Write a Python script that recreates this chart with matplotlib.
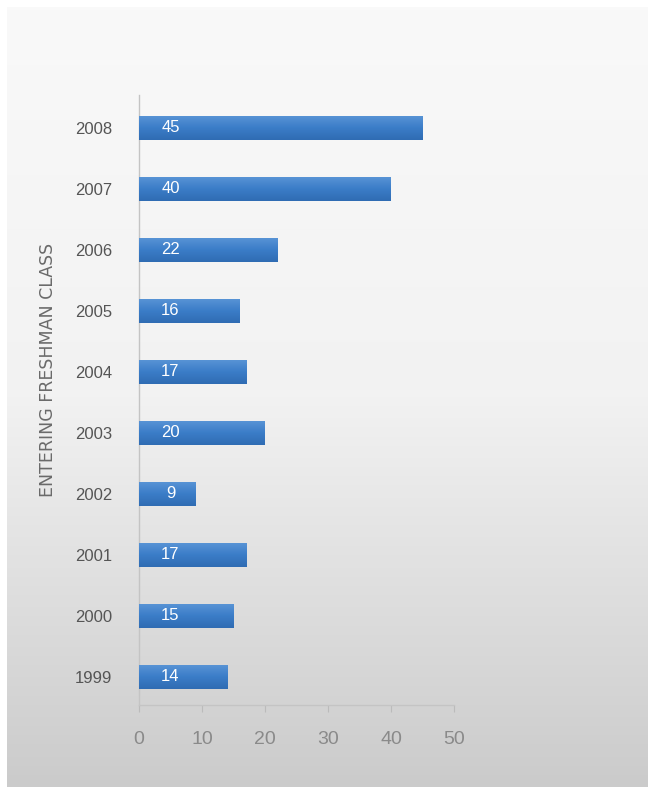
import matplotlib
matplotlib.use("Agg")
import matplotlib.pyplot as plt
import numpy as np

# entering freshman class, bottom to top
years = ['1999', '2000', '2001', '2002', '2003', '2004', '2005', '2006', '2007', '2008']
counts = [14, 15, 17, 9, 20, 17, 16, 22, 40, 45]
xticks = [0, 10, 20, 30, 40, 50]

NARROW = ['Liberation Sans', 'DejaVu Sans']

fig = plt.figure(figsize=(6.48, 7.89), dpi=100)
fig.patch.set_facecolor('white')

# gray gradient panel behind everything, white margin on top/left
bg = fig.add_axes([7 / 648, 2 / 789, 641 / 648, 780 / 789], zorder=-10)
grad = np.linspace(0, 1, 256).reshape(-1, 1)
bg.imshow(grad, aspect='auto', cmap=matplotlib.colors.LinearSegmentedColormap.from_list(
    'bgg', ['#f9f9f9', '#f2f2f2', '#cbcbcb']), extent=[0, 1, 0, 1])
bg.axis('off')

ax = fig.add_axes([139 / 648, 84 / 789, 315 / 648, 610 / 789])
ax.patch.set_alpha(0)

pos = np.arange(len(years))
bars = ax.barh(pos, counts, height=0.4, color='#3a7cc7', edgecolor='none', zorder=3)

# subtle vertical shading on each bar
bar_cmap = matplotlib.colors.LinearSegmentedColormap.from_list('barg', ['#2f6cb3', '#3b7dc8', '#5a95d6'])
for b in bars:
    x0, y0 = b.get_x(), b.get_y()
    w, h = b.get_width(), b.get_height()
    im = ax.imshow(np.linspace(0, 1, 64).reshape(-1, 1), cmap=bar_cmap, aspect='auto',
                   extent=[x0, x0 + w, y0, y0 + h], origin='lower', zorder=4)
    im.set_clip_path(b)

for p, v in zip(pos, counts):
    ax.text(5, p, str(v), color='white', ha='center', va='center',
            fontsize=12, family=NARROW, zorder=5)

ax.set_xlim(0, 50)
ax.set_ylim(-0.46, 9.54)
ax.set_xticks(xticks)
ax.set_xticklabels([str(t) for t in xticks], fontsize=14, color='#8a8a8a', family=NARROW)
ax.set_yticks(pos)
ax.set_yticklabels(years, fontsize=12, color='#555555', family=NARROW)
ax.tick_params(axis='y', length=0, pad=19)
ax.tick_params(axis='x', length=5, color='#bbbbbb', pad=14)

for side in ['top', 'right']:
    ax.spines[side].set_visible(False)
ax.spines['left'].set_color('#c4c4c4')
ax.spines['bottom'].set_color('#c4c4c4')
ax.spines['left'].set_linewidth(1)
ax.spines['bottom'].set_linewidth(1)

fig.text(48 / 648, 1 - 370 / 789, 'ENTERING FRESHMAN CLASS', rotation=90,
         fontsize=12.5, color='#6a6a6a', ha='center', va='center')

fig.savefig('out.png', dpi=100)
